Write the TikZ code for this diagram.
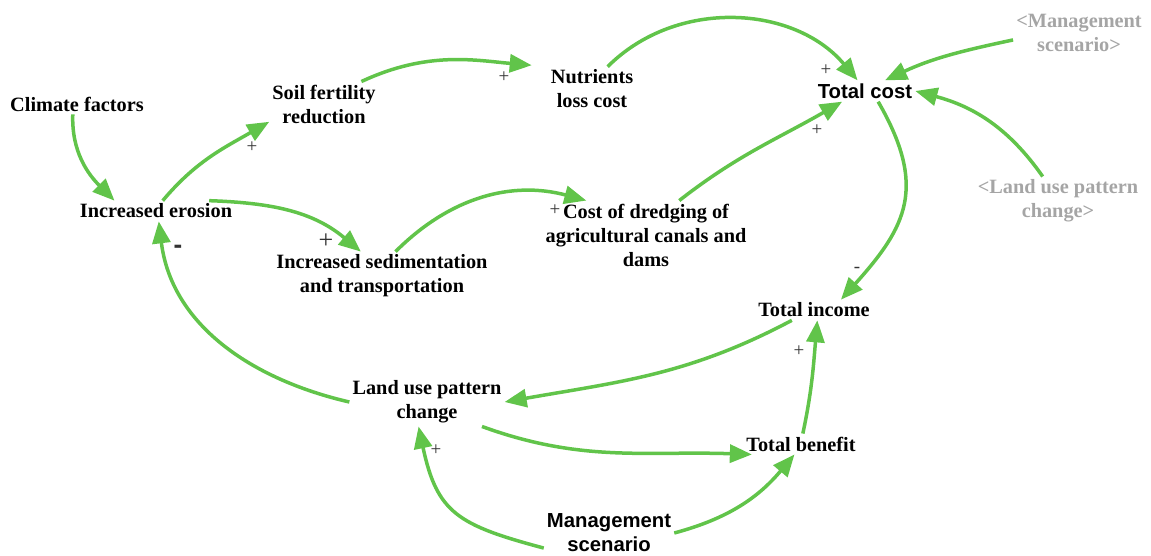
\documentclass[tikz,border=0pt]{standalone}
\usepackage{fontspec}
\setmainfont{Liberation Serif}
\newfontfamily\arialfont{Liberation Sans}
\usepackage[dvipsnames,rgb]{xcolor}
\usetikzlibrary{arrows.meta}
\definecolor{linkgreen}{RGB}{97,196,74}
\definecolor{shadowgray}{RGB}{165,165,165}

\begin{document}
\begin{tikzpicture}[x=1pt, y=1pt,
        var/.style = {align=center, inner sep=3pt, font=\fontsize{20.3}{24}\selectfont\bfseries},
        sansvar/.style = {var, font=\arialfont\fontsize{20.3}{24}\selectfont\bfseries},
        shadow var/.style = {var, text=shadowgray},
        link/.style = {draw=linkgreen, line width=3.5pt, -{Triangle[length=22pt, width=18pt]}},
        sign/.style = {inner sep=0pt, text=black!80, font=\fontsize{19}{19}\selectfont}]
        \useasboundingbox (0,0) rectangle (1151,-555);

        \node(clim)[var] at (77,-104) {Climate factors};
        \node(eros)[var] at (156,-211) {Increased erosion};
        \node(soil)[var] at (324,-104) {Soil fertility\\reduction};
        \node(nutr)[var] at (592,-89) {Nutrients\\loss cost};
        \node(tcost)[sansvar] at (865,-91) {Total cost};
        \node(gman)[shadow var] at (1079,-33) {<Management\\scenario>};
        \node(gland)[shadow var] at (1058,-201) {<Land use pattern\\change>};
        \node(dredge)[var] at (646,-235) {Cost of dredging of\\agricultural canals and\\dams};
        \node(sedim)[var] at (382,-276) {Increased sedimentation\\and transportation};
        \node(tinc)[var] at (814,-310) {Total income};
        \node(land)[var] at (427,-402) {Land use pattern\\change};
        \node(tben)[var] at (801,-444) {Total benefit};
        \node(mgmt)[sansvar] at (609,-533) {Management\\scenario};

        \draw[link] (clim.-112) to[out=-92, in=135] (eros.166);
        \draw[link] (eros.57) to[out=50, in=-150] (soil.-162);
        \draw[link] (eros.11) to[out=-2, in=140] (sedim.131);
        \draw[link, shorten >=16pt] (soil.31) to[out=25, in=175] (nutr.north west);
        \draw[link] (nutr.55) to[out=45, in=130] (tcost.125);
        \draw[link] (sedim.61) to[out=45, in=165] (dredge.150);
        \draw[link] (dredge.46) to[out=38, in=-150] (tcost.-155);
        \draw[link] (gman.-174) to[out=192, in=25] (tcost.28);
        \draw[link] (gland.122) to[out=125, in=-15] (tcost.east);
        \draw[link] (tcost.-39) to[out=-60, in=48, looseness=1.25] (tinc.21);
        \draw[link] (tinc.-155) to[out=-152, in=10] (land.east);
        \draw[link] (tben.80) to[out=78, in=-95] (tinc.-72);
        \draw[link] (land.-24) to[out=-20, in=178] (tben.-168);
        \draw[link] (land.west) to[out=167, in=-83] (eros.-75);
        \draw[link] (mgmt.-167) to[out=165, in=-78, looseness=1.3] (land.-109);
        \draw[link] (mgmt.east) to[out=15, in=-130] (tben.-122);

        \node(s1)[sign] at (252,-147) {+};
        \node(s2)[sign, font=\fontsize{26}{26}\selectfont] at (326,-241) {+};
        \node(s3)[sign] at (504,-77) {+};
        \node(s4)[sign] at (826,-70) {+};
        \node(s5)[sign] at (555,-210) {+};
        \node(s6)[sign] at (817,-130) {+};
        \node(s7)[sign] at (857,-270) {-};
        \node(s8)[sign] at (799,-351) {+};
        \node(s9)[sign] at (436,-450) {+};
        \node(s10)[sign, font=\arialfont\fontsize{26}{26}\selectfont\bfseries] at (178,-249) {-};
\end{tikzpicture}
\end{document}
